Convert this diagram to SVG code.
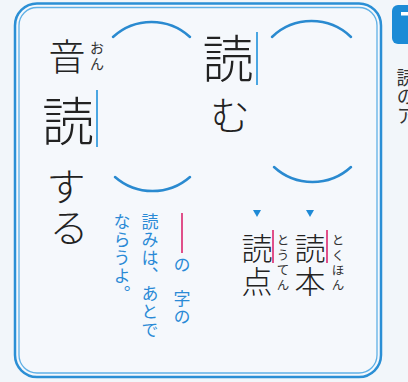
<svg xmlns="http://www.w3.org/2000/svg" width="408" height="382" viewBox="0 0 408 382">
<style>
.big{font-family:"Noto Sans CJK JP","Noto Sans",sans-serif;font-weight:300;fill:#222;text-anchor:middle;dominant-baseline:central}
.rb{font-family:"Noto Sans CJK JP","Noto Sans",sans-serif;fill:#333;text-anchor:middle;dominant-baseline:central;font-size:12.5px}
.vt{font-family:"Noto Sans CJK JP","Noto Sans",sans-serif;fill:#333}
.note{font-family:"Noto Sans CJK JP","Noto Sans",sans-serif;fill:#2a8ad6;font-size:17px;letter-spacing:1px}
.arc{fill:none;stroke:#2a8ad0;stroke-width:2.5;stroke-linecap:round}
.bbar{stroke:#4aa6e2;stroke-width:2}
.pbar{stroke:#e0508a;stroke-width:2}
.tri{fill:#1e8ad6}
</style>
<rect x="0" y="0" width="408" height="382" fill="#f2f6fa"/>
<g id="frame">
<rect x="15" y="3.5" width="366" height="373.5" rx="22" fill="#f5f8fc" stroke="#2b8fd5" stroke-width="2.5"/>
<rect x="19" y="7.5" width="358" height="365.5" rx="18" fill="none" stroke="#5fb0e6" stroke-width="1.3"/>
</g>
<g id="side">
<rect x="392" y="5" width="30" height="39" rx="6" fill="#1c8bd6"/>
<rect x="401" y="12" width="10" height="3.5" fill="#fff"/>
<text class="vt" x="406" y="68" style="writing-mode:vertical-rl;font-size:19px">読のア</text>
</g>
<g id="brackets">
<path class="arc" d="M113,37 A57,57 0 0 1 190,37"/>
<path class="arc" d="M115,177 A57,57 0 0 0 190,177"/>
<path class="arc" d="M272,37 A57,57 0 0 1 351,37"/>
<path class="arc" d="M274,167 A57,57 0 0 0 351,167"/>
</g>
<g id="onyomi">
<text class="big" x="67" y="55" font-size="37">音</text>
<text class="rb" x="97" y="47" style="font-size:14px">お</text>
<text class="rb" x="97" y="63" style="font-size:14px">ん</text>
<text class="big" x="68" y="118" font-size="52">読</text>
<line class="bbar" x1="97" y1="90" x2="97" y2="147"/>
<text class="big" x="66" y="184" font-size="39">す</text>
<text class="big" x="69" y="225" font-size="39">る</text>
</g>
<g id="kunyomi">
<text class="big" x="228" y="56" font-size="51">読</text>
<line class="bbar" x1="257" y1="32" x2="257" y2="85"/>
<text class="big" x="230" y="113" font-size="40">む</text>
</g>
<g id="note">
<line class="pbar" x1="182" y1="213" x2="182" y2="253"/>
<text class="note" x="182" y="256" style="writing-mode:vertical-rl">の</text>
<text class="note" x="182" y="290" style="writing-mode:vertical-rl">字の</text>
<text class="note" x="150" y="213" style="writing-mode:vertical-rl">読みは、あとで</text>
<text class="note" x="122" y="213" style="writing-mode:vertical-rl">ならうよ。</text>
</g>
<g id="toten">
<polygon class="tri" points="253,210 261,210 257,217"/>
<text class="big" x="257" y="246" font-size="31">読</text>
<text class="big" x="257" y="279" font-size="31">点</text>
<line class="pbar" x1="273" y1="230" x2="273" y2="263"/>
<text class="rb" x="283" y="239">と</text>
<text class="rb" x="283" y="254">う</text>
<text class="rb" x="283" y="269">て</text>
<text class="rb" x="283" y="284">ん</text>
</g>
<g id="tokuhon">
<polygon class="tri" points="306,210 314,210 310,217"/>
<text class="big" x="310" y="246" font-size="31">読</text>
<text class="big" x="310" y="279" font-size="31">本</text>
<line class="pbar" x1="327" y1="230" x2="327" y2="263"/>
<text class="rb" x="338" y="239">と</text>
<text class="rb" x="338" y="254">く</text>
<text class="rb" x="338" y="269">ほ</text>
<text class="rb" x="338" y="284">ん</text>
</g>
</svg>
